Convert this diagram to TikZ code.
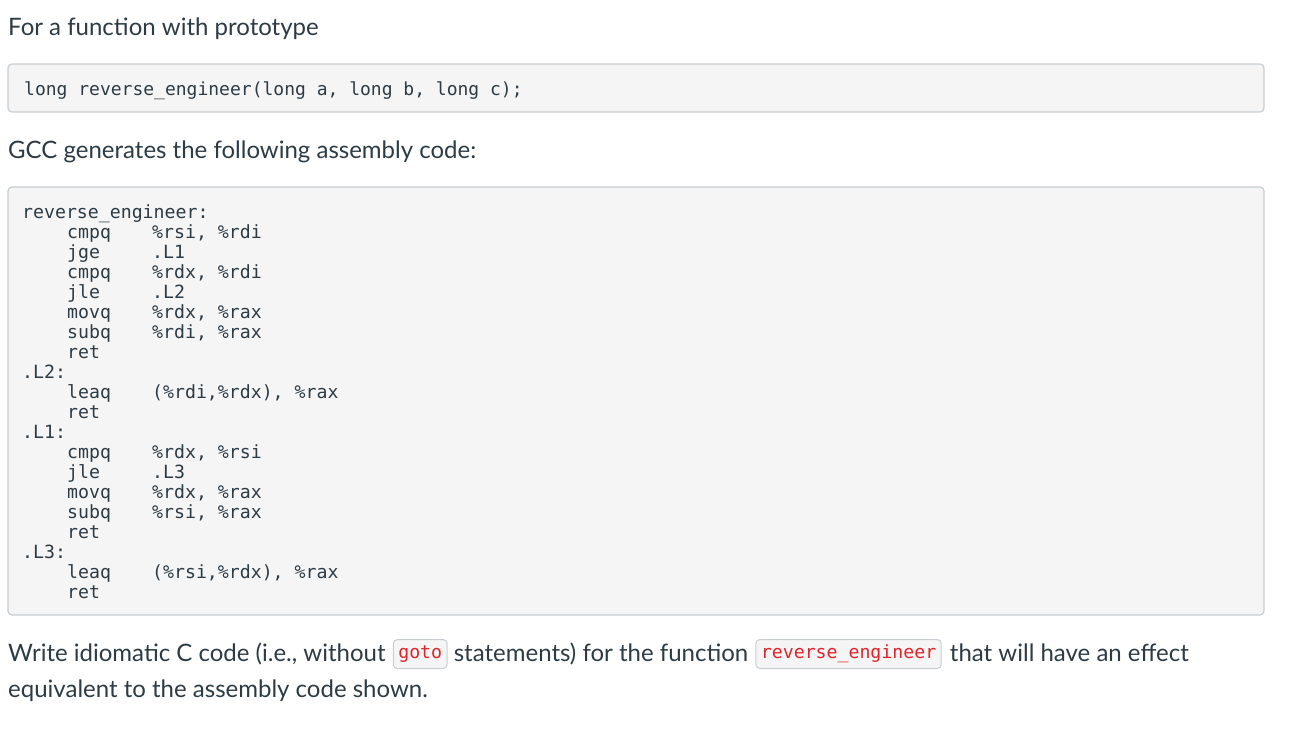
\documentclass[tikz,border=0pt]{standalone}
\usepackage{fontspec}
\setmainfont{Lato}
\setmonofont{DejaVu Sans Mono}
\definecolor{txt}{HTML}{2D3B45}
\definecolor{boxbg}{HTML}{F5F5F5}
\definecolor{boxln}{HTML}{C7CDD1}
\definecolor{codered}{HTML}{E0242C}
\begin{document}
\begin{tikzpicture}[x=1pt,y=-1pt,
  body/.style={inner sep=0pt,anchor=base west,text=txt,font=\fontsize{24}{28}\selectfont},
  code/.style={inner sep=0pt,anchor=base west,text=txt,font=\ttfamily\fontsize{18.2}{20}\selectfont},
  panel/.style={draw=boxln,fill=boxbg,rounded corners=4pt,line width=1.2pt},
  inl/.style={draw=boxln,fill=boxbg,rounded corners=4pt,line width=1pt,inner xsep=5pt,inner ysep=0pt,minimum height=29pt,anchor=west,text=codered,font=\ttfamily\fontsize{18.2}{20}\selectfont}]
\useasboundingbox (0,0) rectangle (1300,736);
\node[body] (t1) at (8,35) {For a function with prototype};
\draw[panel] (8,64) rectangle (1264,112);
\node[code,font=\ttfamily\fontsize{18}{20}\selectfont] (proto) at (24,95) {long reverse\_engineer(long a, long b, long c);};
\node[body] (t2) at (8,158) {GCC generates the following assembly code:};
\draw[panel] (8,187) rectangle (1264,615);
\foreach \y/\l/\i/\o [count=\n] in {
 218/reverse\_engineer:/{}/{},
 238/{}/cmpq/{\%rsi, \%rdi},
 258/{}/jge/{.L1},
 278/{}/cmpq/{\%rdx, \%rdi},
 298/{}/jle/{.L2},
 318/{}/movq/{\%rdx, \%rax},
 338/{}/subq/{\%rdi, \%rax},
 358/{}/ret/{},
 378/.L2:/{}/{},
 398/{}/leaq/{(\%rdi,\%rdx), \%rax},
 418/{}/ret/{},
 438/.L1:/{}/{},
 458/{}/cmpq/{\%rdx, \%rsi},
 478/{}/jle/{.L3},
 498/{}/movq/{\%rdx, \%rax},
 518/{}/subq/{\%rsi, \%rax},
 538/{}/ret/{},
 558/.L3:/{}/{},
 578/{}/leaq/{(\%rsi,\%rdx), \%rax},
 598/{}/ret/{}}{
  \node[code] (l\n) at (22,\y) {\l};
  \node[code] (i\n) at (67,\y) {\i};
  \node[code] (o\n) at (152,\y) {\o};
}
\node[body] (w1) at (8,661) {Write idiomatic C code (i.e., without};
\node[inl] (g) at ([xshift=7pt,yshift=7pt]w1.base east) {goto};
\node[body] (w2) at ([xshift=6pt]g.east |- w1.base) {statements) for the function};
\node[inl] (r) at ([xshift=7pt,yshift=7pt]w2.base east) {reverse\_engineer};
\node[body] (w3) at ([xshift=8pt]r.east |- w1.base) {that will have an effect};
\node[body] (w4) at (8,697) {equivalent to the assembly code shown.};
\end{tikzpicture}
\end{document}
